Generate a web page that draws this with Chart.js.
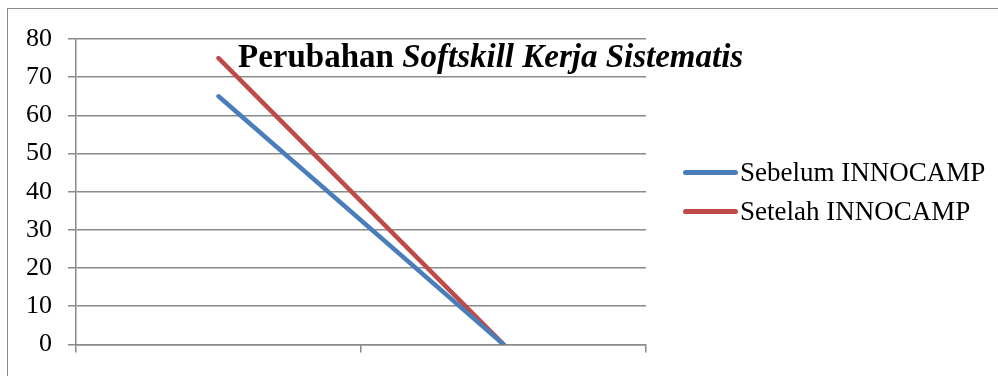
<!DOCTYPE html>
<html>
<head>
<meta charset="utf-8">
<script src="https://cdn.jsdelivr.net/npm/chart.js@4/dist/chart.umd.min.js"></script>
<style>
  html, body { margin: 0; padding: 0; background: #fff; }
  #wrap { position: relative; width: 998px; height: 376px; overflow: hidden; }
  #frame { position: absolute; left: 7px; top: 8px; width: 1100px; height: 500px; border: 1.5px solid #8a8a8a; }
  #chart { position: absolute; left: 0; top: 0; }
  #title { position: absolute; top: 38px; left: 238px; font-family: "Liberation Serif", serif; font-size: 33px;
           font-weight: bold; white-space: nowrap; color: #000; }
  #legend { position: absolute; left: 683px; top: 0; font-family: "Liberation Serif", serif; font-size: 27px; color: #000; }
  .item { position: absolute; left: 0; display: flex; align-items: center; white-space: nowrap; }
  .swatch { width: 55px; height: 5px; border-radius: 3px; margin-right: 2px; }
</style>
</head>
<body>
<div id="wrap">
  <div id="frame"></div>
  <canvas id="chart" width="998" height="376"></canvas>
  <div id="title">Perubahan <i>Softskill Kerja Sistematis</i></div>
  <div id="legend"></div>
</div>
<script>
// Two categories, two series
const categories = ['1', '2'];
const sebelumValues = [65, 0];
const setelahValues = [75, 0];
const seriesNames = ['Sebelum INNOCAMP', 'Setelah INNOCAMP'];
const seriesColors = ['#4a7ebb', '#be4b48'];
const yMin = 0, yMax = 80, yStep = 10;

const serif = 'Liberation Serif';

const chart = new Chart(document.getElementById('chart'), {
  type: 'line',
  data: {
    labels: categories,
    datasets: [
      { label: seriesNames[0], data: sebelumValues, borderColor: seriesColors[0], backgroundColor: seriesColors[0],
        borderWidth: 4.5, pointRadius: 0, borderCapStyle: 'round', tension: 0 },
      { label: seriesNames[1], data: setelahValues, borderColor: seriesColors[1], backgroundColor: seriesColors[1],
        borderWidth: 4.5, pointRadius: 0, borderCapStyle: 'round', tension: 0 }
    ]
  },
  options: {
    responsive: false,
    animation: false,
    layout: { padding: { left: 10, right: 352, top: 39, bottom: 23 } },
    plugins: { legend: { display: false }, title: { display: false }, tooltip: { enabled: false } },
    scales: {
      x: {
        offset: true,
        grid: { offset: true, drawOnChartArea: false, drawTicks: true, tickLength: 8, color: '#8a8a8a', lineWidth: 1.5 },
        border: { display: true, color: '#8a8a8a', width: 1.5 },
        ticks: { display: false }
      },
      y: {
        min: yMin, max: yMax,
        grid: { color: '#8a8a8a', lineWidth: 1.5, tickLength: 8, drawTicks: true },
        border: { display: true, color: '#8a8a8a', width: 1.5 },
        ticks: { stepSize: yStep, padding: 16, color: '#000', font: { family: serif, size: 26 } }
      }
    }
  }
});

// Legend built from the chart's own datasets
const legendEl = document.getElementById('legend');
const legendTops = [157, 196];
chart.data.datasets.forEach((ds, i) => {
  const item = document.createElement('div');
  item.className = 'item';
  item.style.top = legendTops[i] + 'px';
  const sw = document.createElement('span');
  sw.className = 'swatch';
  sw.style.background = ds.borderColor;
  const tx = document.createElement('span');
  tx.textContent = ds.label;
  item.appendChild(sw);
  item.appendChild(tx);
  legendEl.appendChild(item);
});
</script>
</body>
</html>
